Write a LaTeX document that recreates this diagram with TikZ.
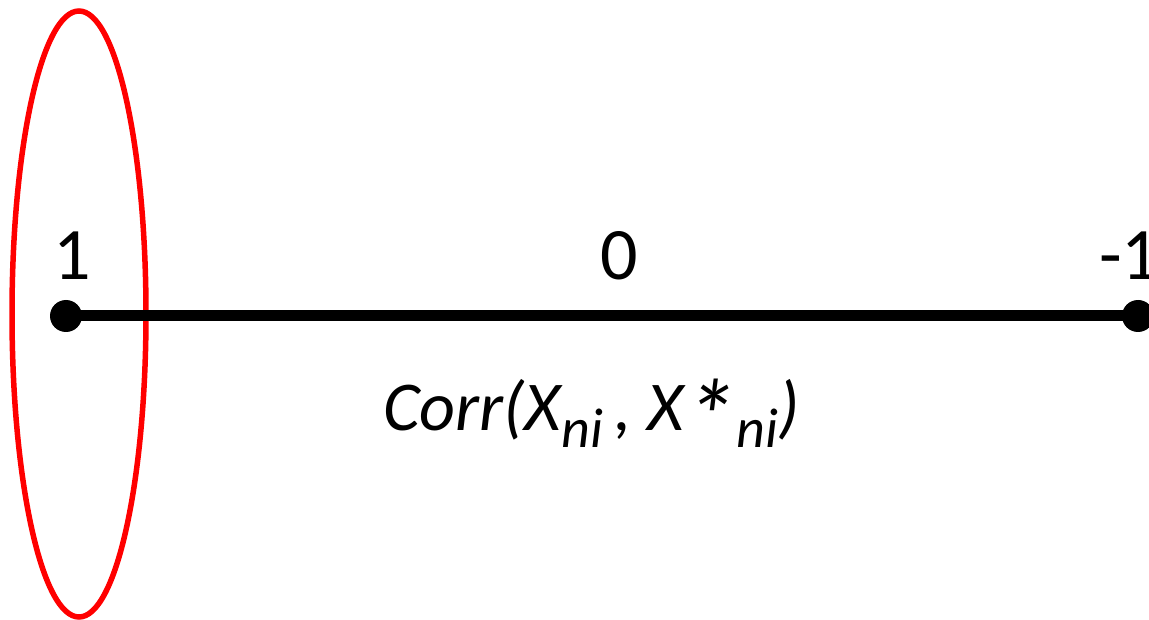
\documentclass[tikz,border=0pt]{standalone}
\usepackage{fontspec}
\setmainfont{Carlito}
\begin{document}
\begin{tikzpicture}[x=1pt,y=-1pt,
  dot/.style={circle,fill=black,inner sep=0pt,minimum size=32pt},
  numlbl/.style={inner sep=0pt,font=\fontsize{74}{80}\selectfont},
  corrlbl/.style={inner sep=0pt,font=\fontsize{70}{76}\selectfont\itshape},
  axisline/.style={line width=11pt},
  ring/.style={red,line width=5.5pt}]
\useasboundingbox (0,0) rectangle (1149,620);
\draw[ring] (79,314) ellipse [x radius=67, y radius=303];
\node[dot] (p1) at (66,316) {};
\node[dot] (p2) at (1138,316) {};
\draw[axisline] (p1.center) -- (p2.center);
\node[numlbl,anchor=base] (l1) at (72,280) {1};
\node[numlbl,anchor=base] (l0) at (619,280) {0};
\node[numlbl,anchor=base west] (lm1) at (1099,280) {-1};
\newcommand{\mysub}[1]{\raisebox{-0.25em}{\fontsize{56}{60}\selectfont #1}}
\newcommand{\myast}{\raisebox{-0.33em}{\fontsize{105}{110}\selectfont *}}
\node[corrlbl,anchor=base west] (corr) at (383,430) {Corr(X\mysub{ni}\,, X\myast\mysub{ni})};
\end{tikzpicture}
\end{document}
